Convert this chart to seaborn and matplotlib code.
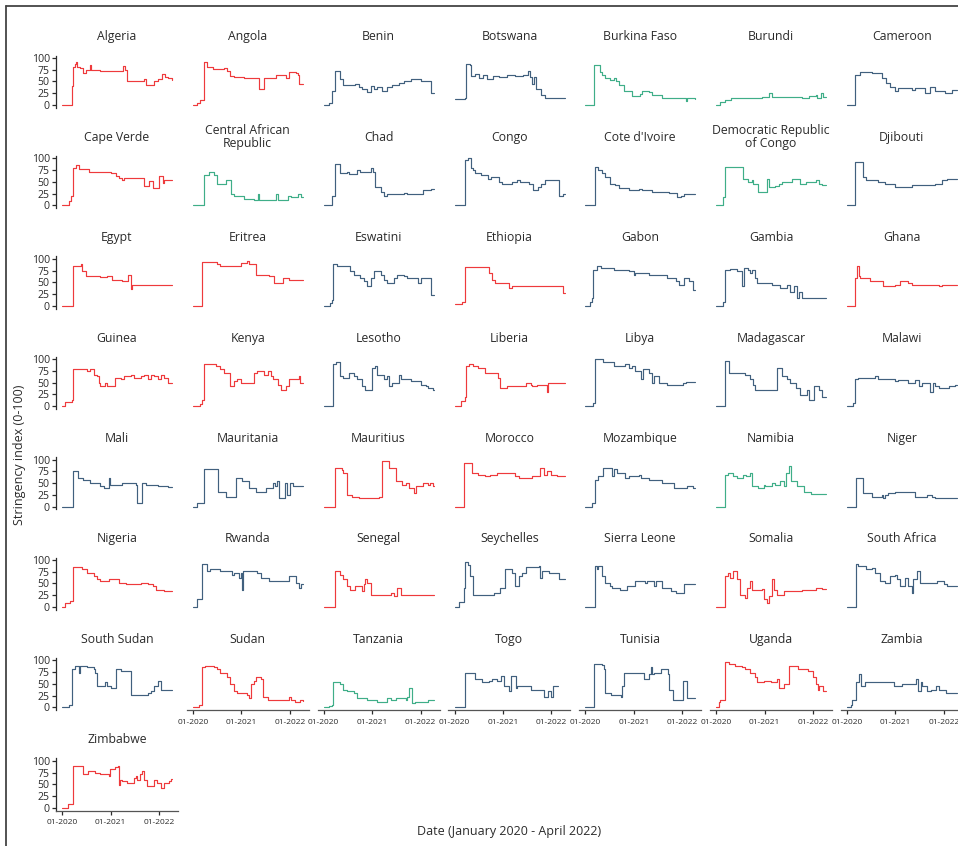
import numpy as np
import pandas as pd
import matplotlib
matplotlib.use("Agg")
import matplotlib.pyplot as plt
import matplotlib.dates as mdates
import seaborn as sns
from matplotlib.lines import Line2D

# ---------------- data: (months since Jan 2020, stringency index) change points -------------
algeria = [(0,0),(2.2,0),(2.5,40),(2.8,80),(3.1,88),(3.5,92),(3.8,80),(4.5,78),(5.2,68),(5.8,75),(6.8,84),(7.2,75),(9.5,72),(14.0,72),(15.0,82),(15.5,75),(16.2,52),(19.5,52),(20.3,56),(20.8,42),(22.2,42),(22.8,50),(23.8,56),(24.7,66),(25.5,60),(26.3,57),(27.3,53)]
angola = [(0,0),(1,5),(1.8,10),(2.8,92),(3.5,80),(5,77),(7.7,78),(8.5,72),(9.3,62),(10.2,60),(12.7,58),(16,57),(16.4,35),(17.7,57),(20.6,64),(23.1,57),(23.9,70),(25.5,68),(26,64),(26.4,44),(27.3,44)]
benin = [(0,0),(1.2,5),(2.0,30),(2.8,72),(4.1,55),(4.9,42),(7.8,45),(8.7,38),(9.5,35),(10.75,28),(11.6,40),(12.4,35),(13.25,38),(14.5,30),(15.75,38),(17,42),(18.7,47),(19.9,50),(21.6,55),(24.1,50),(25.75,50),(26.6,25),(27.3,25)]
botswana = [(0,12),(2.5,15),(2.9,88),(3.8,85),(4.2,62),(5,65),(6,58),(7,63),(8,55),(9.5,62),(11,60),(13,63),(15,62),(17,64),(18.2,72),(18.8,60),(19.2,45),(19.8,60),(20.3,35),(21.5,21),(22.3,14),(27.3,14)]
burkina_faso = [(0,0),(1.8,0),(2.1,85),(3.7,70),(4.25,64),(4.9,57),(6.2,53),(7,57),(7.5,50),(8.25,43),(9.5,29),(11.6,20),(13.5,24),(14.1,30),(15.75,27),(16.6,21),(19.1,14),(24.9,8),(25.3,14),(27.3,13)]
burundi = [(0,0),(0.9,7),(2.2,11),(3.8,14),(9.7,15),(11.3,17),(13.2,25),(13.8,18),(20.5,17),(21.3,14),(23,19),(24.7,22),(25.1,14),(25.9,26),(26.6,18),(27.3,18)]
cameroon = [(0,0),(1.9,64),(3.2,71),(6.1,68),(8.6,57),(9.8,46),(10.7,39),(11.9,30),(12.75,36),(16.1,32),(16.9,37),(19.4,25),(20.7,39),(21.9,29),(24.4,25),(26.1,31),(27.3,31)]
cape_verde = [(0,0),(1.6,10),(2.2,20),(2.7,79),(3.5,85),(4.1,78),(6.6,70),(9.5,72),(10.3,70),(12,68),(13.25,62),(14.1,58),(14.9,53),(15.3,58),(20.3,42),(21.6,52),(22.4,38),(24.1,62),(24.9,48),(25.3,55),(27.3,53)]
central_african_republic = [(0,0),(2.7,64),(3.9,71),(5.2,64),(6,46),(8.1,54),(9.5,25),(10.2,19),(12.7,14),(15.2,11),(16.1,24),(16.3,11),(20.6,24),(21,11),(23.5,21),(24.3,18),(26,24),(26.8,18),(27.3,18)]
chad = [(0,0),(2,20),(2.8,89),(4.1,68),(5.75,71),(6.2,66),(8.25,75),(9.1,71),(11.6,79),(12.2,71),(12.6,40),(14.1,29),(14.9,21),(15.75,25),(19.9,27),(20.75,24),(24.5,32),(26.5,34),(27.3,34)]
congo = [(0,0),(2.3,0),(2.6,96),(3.4,100),(4.0,80),(4.5,75),(5.2,68),(6.5,64),(8.3,57),(9,60),(11,50),(11.75,46),(14.25,50),(15.5,54),(16.3,50),(18.5,46),(19.4,32),(20.6,39),(21.5,46),(22.5,54),(25.9,21),(26.9,24),(27.3,24)]
cote_divoire = [(0,0),(2.4,82),(3.25,75),(4.1,68),(4.9,61),(6.2,45),(7.4,43),(8.25,36),(10.75,32),(13.25,34),(14.1,32),(16.6,29),(20.75,27),(22.8,18),(23.7,21),(24.5,25),(27.3,25)]
dr_congo = [(0,0),(1.75,18),(2.3,82),(6.3,82),(6.6,57),(7.6,57),(8,50),(8.8,54),(9.25,46),(10.5,29),(12.2,29),(12.5,56),(13,39),(14.7,42),(15.5,46),(16.3,50),(18.8,57),(20.9,46),(22.2,50),(24.7,54),(25.5,46),(26.3,43),(27.3,43)]
djibouti = [(0,0),(2.1,93),(4.1,61),(4.8,54),(7.75,50),(9.4,46),(11.9,39),(16.1,43),(21.9,46),(23.6,54),(24.8,57),(27.3,57)]
egypt = [(0,0),(2.7,84),(4.8,88),(5.0,73),(6,64),(7.8,63),(9.5,61),(11.2,63),(12.4,55),(14.9,52),(16.3,66),(17,35),(17.3,44),(27.3,44)]
eritrea = [(0,0),(2.25,93),(6.0,88),(6.8,84),(12,91),(13.5,95),(14,88),(15.6,66),(18.8,63),(20.2,48),(22.2,59),(23.9,55),(27.3,55)]
eswatini = [(0,0),(1.6,5),(2,12),(2.4,88),(3.25,84),(6.6,73),(7.4,66),(9.1,60),(9.9,52),(10.75,42),(11.6,59),(12.4,73),(14.1,66),(14.9,55),(15.75,48),(17.4,59),(18.25,66),(19.9,63),(20.75,59),(23.25,48),(24.1,59),(26.2,59),(26.6,23),(27.3,23)]
ethiopia = [(0,3),(1.8,8),(2.5,82),(8.5,70),(9.25,55),(10.1,48),(13.4,37),(14.3,41),(26.8,28),(27.3,28)]
gabon = [(0,0),(1.2,9),(1.6,16),(2,77),(2.8,84),(3.9,81),(7,77),(10.75,73),(12,66),(12.4,70),(15.75,66),(20.3,59),(22.4,52),(23.25,45),(24.5,59),(25.75,52),(26.6,34),(27.3,34)]
gambia = [(0,0),(1.75,8),(2.2,77),(3.5,79),(5.1,73),(6.3,41),(6.8,81),(8,77),(8.4,70),(8.8,77),(9.7,59),(10.1,48),(13.8,45),(15.9,37),(17.6,45),(18.4,30),(19.25,41),(20.1,16),(20.5,30),(21.3,16),(27.3,16)]
ghana = [(0,0),(1.9,5),(2.1,60),(2.4,84),(3.0,63),(3.2,59),(5.7,52),(9,41),(11.9,45),(13.2,52),(15.25,48),(16.1,45),(21.9,45),(22.75,41),(23.6,45),(27.3,45)]
guinea = [(0,0),(0.75,9),(2.4,13),(2.8,80),(6.2,75),(7,78),(7.8,67),(8.7,64),(9.25,49),(9.5,42),(10.75,49),(11.2,42),(13.2,60),(14.5,57),(15.3,64),(17,67),(17.8,60),(19.5,64),(20.3,67),(21.2,57),(22,67),(22.8,64),(23.7,57),(24.5,67),(25.3,60),(26.2,49),(27.3,49)]
kenya = [(0,0),(1.8,5),(2.25,13),(2.8,89),(5.6,86),(6.8,78),(7.7,71),(9.2,42),(10.2,53),(11,57),(11.8,49),(15.2,71),(16,75),(17.7,67),(18.5,75),(19.3,64),(19.75,57),(21,46),(21.8,35),(23.1,42),(23.9,57),(26.25,64),(26.6,49),(27.3,49)]
lesotho = [(0,0),(2.4,89),(3.0,93),(4.1,64),(4.9,60),(6.2,71),(7.4,64),(8.25,57),(9.5,42),(10.3,35),(12,82),(12.8,86),(13.25,67),(14.9,57),(15.75,64),(16.2,42),(17,49),(18.7,67),(19.1,57),(21.6,53),(24.1,46),(25.3,42),(25.75,38),(27,35),(27.3,35)]
liberia = [(0,0),(1.5,10),(2.5,20),(2.8,85),(3.5,90),(4.5,85),(5.9,82),(7.6,71),(10.8,60),(11.3,38),(13,42),(17.6,49),(18.9,45),(19.25,42),(20.5,45),(22.9,30),(23.2,49),(27.3,49)]
libya = [(0,0),(2,6),(2.4,100),(4.5,93),(7,86),(9.9,89),(10.75,82),(11.6,86),(12.4,75),(13.7,57),(14.3,78),(15.75,71),(16.6,49),(17,64),(18.25,49),(20.3,46),(24.1,49),(24.9,51),(27.3,51)]
madagascar = [(0,0),(2.3,96),(3.3,71),(7.2,67),(8.4,57),(9.25,46),(9.7,35),(15.1,82),(16.3,64),(17.6,57),(18.4,49),(19.7,38),(20.9,24),(22.6,35),(23,13),(24.25,42),(25.5,35),(26.3,20),(27.3,20)]
malawi = [(0,0),(1.5,6),(1.9,57),(2.75,60),(6.9,65),(7.75,58),(11.9,53),(12.75,56),(15.25,49),(16.9,56),(17.75,42),(18.6,49),(20.7,31),(21.3,49),(21.9,42),(22.75,38),(25.25,42),(26.9,46),(27.3,46)]
mali = [(0,0),(2.7,75),(3.9,61),(5.3,57),(7,50),(9.5,43),(10.3,39),(11.5,61),(11.8,46),(14.9,50),(18.25,46),(18.5,7),(19.7,50),(20.75,46),(23.7,43),(26.2,41),(27.3,41)]
mauritania = [(0,0),(1,7),(2.7,79),(6.2,32),(8.1,21),(10.8,61),(12.25,54),(13.9,39),(15.6,32),(18.1,39),(19.8,50),(20.4,43),(20.9,54),(21.4,18),(22.7,50),(23.3,25),(24,50),(24.8,43),(27.3,43)]
mauritius = [(0,0),(2.7,82),(4.5,78),(4.9,71),(5.75,25),(7,21),(8.7,18),(13.7,21),(14.4,96),(16.2,82),(17.8,54),(19.5,46),(20.3,50),(21.2,39),(22.4,29),(22.8,43),(24.5,50),(25.75,46),(26.4,50),(27,43),(27.3,43)]
morocco = [(0,0),(2.3,93),(4.3,72),(5.9,68),(7.6,64),(8.8,68),(10.5,71),(15.1,64),(15.9,61),(19.25,64),(21.3,82),(22.2,68),(23,75),(23.8,68),(25.5,64),(27.3,64)]
mozambique = [(0,0),(1.6,7),(2.4,57),(3.25,64),(4.5,82),(6.5,64),(7,80),(7.8,71),(9.9,61),(10.75,64),(13.25,68),(13.7,61),(15.75,57),(19.1,50),(22,39),(25.3,43),(26.6,39),(27.3,39)]
namibia = [(0,0),(2.2,68),(3,71),(4.25,64),(5.1,61),(6.75,68),(7.5,64),(8.4,71),(8.8,43),(10.5,39),(11.75,46),(12.2,43),(13.8,50),(14.7,46),(15.9,54),(16.75,43),(17.2,71),(18,86),(18.6,54),(20.1,43),(21.75,32),(23.4,27),(27.3,27)]
niger = [(0,0),(2.3,61),(3.9,29),(6.1,21),(8.6,25),(9.0,18),(9.4,25),(10.25,29),(11.9,32),(16.9,21),(19.8,25),(21.1,21),(21.9,18),(27.3,18)]
nigeria = [(0,0),(0.75,9),(2,12),(2.7,84),(4.9,80),(6.2,73),(7.8,66),(8.7,59),(9.5,55),(11.6,60),(14.1,51),(15.75,48),(19.5,51),(21.2,48),(22.4,44),(23.25,37),(25.3,35),(27.3,35)]
rwanda = [(0,0),(1,16),(2.25,91),(3.5,76),(4.3,80),(6.8,76),(9.75,69),(10.2,73),(11.4,62),(11.8,73),(12.1,37),(12.4,76),(16,73),(16.8,62),(18.9,55),(23.5,55),(23.9,66),(25.6,51),(26.4,41),(26.8,48),(27.3,48)]
senegal = [(0,0),(2.7,76),(4.1,69),(4.9,59),(5.75,44),(6.6,37),(7.8,44),(9.5,34),(9.9,48),(10.3,59),(10.8,51),(11.6,26),(16.6,30),(17.4,23),(18.25,41),(19.1,26),(27.3,26)]
seychelles = [(0,0),(1,10),(2.3,40),(2.6,95),(3.4,90),(3.9,65),(4.6,25),(9.25,26),(9.7,30),(11.3,41),(12.6,80),(14.25,73),(15.1,44),(15.9,66),(16.75,73),(17.6,84),(20.9,87),(21.3,62),(21.75,76),(23.4,73),(25.9,59),(27.3,59)]
sierra_leone = [(0,0),(2.4,87),(2.8,80),(3.25,87),(4.1,66),(4.9,51),(6.2,44),(6.6,41),(8.7,37),(10.3,44),(12.4,55),(14.9,51),(15.3,55),(17,44),(17.4,55),(19.1,41),(21.2,34),(22.4,30),(24.5,48),(27.3,48)]
somalia = [(0,0),(2.2,66),(3,73),(3.4,62),(4.25,76),(5.1,59),(5.9,26),(7.2,19),(7.6,41),(8.4,55),(8.8,37),(11.3,39),(11.75,16),(12.6,9),(13,23),(13.8,59),(14.25,37),(15.1,26),(16.75,34),(21.3,37),(24.7,41),(26.3,39),(27.3,39)]
south_africa = [(0,0),(2.3,91),(2.75,87),(4.8,80),(6.1,83),(6.9,73),(8.2,55),(9.4,51),(10.7,66),(11.9,69),(12.3,59),(13.2,44),(14.4,62),(15.25,44),(16.2,30),(16.5,59),(17.3,76),(18.2,51),(22.3,55),(24,48),(24.8,44),(27.3,44)]
south_sudan = [(0,0),(1.6,5),(2.4,82),(3.25,89),(4.25,74),(4.5,89),(6.2,85),(7.8,82),(8.25,74),(8.7,45),(10.75,53),(11.2,45),(12,42),(13.25,82),(14.5,78),(17,27),(20.3,27),(21.2,31),(22,34),(22.8,45),(23.7,56),(24.5,38),(27.3,38)]
sudan = [(0,0),(1.4,5),(2.25,85),(3.1,88),(5.2,85),(6,82),(6.8,74),(8.5,64),(9.3,49),(10.2,34),(11,31),(13.5,27),(13.9,20),(14.3,49),(15.2,56),(15.6,64),(16.8,60),(17.3,23),(18.5,16),(23.5,16),(23.9,23),(24.3,16),(25.2,12),(26.5,16),(27.3,14)]
tanzania = [(0,0),(1.4,3),(2,5),(2.4,53),(4.1,49),(4.9,38),(5.75,34),(7.4,31),(8.25,20),(10.75,16),(13.25,12),(15.75,20),(16.6,16),(17.8,20),(20.3,16),(20.75,23),(21.2,42),(22,10),(22.5,12),(25.75,16),(27.3,16)]
togo = [(0,0),(2.5,74),(5,60),(6.8,53),(8.5,56),(9.3,61),(10.6,56),(11.4,67),(12.25,45),(13.5,34),(13.9,67),(15.2,42),(15.6,45),(18.9,38),(22.25,23),(23.1,34),(23.9,22),(24.3,45),(25.7,45)]
tunisia = [(0,0),(2.1,93),(4.2,90),(4.6,82),(5,31),(6.25,27),(8.75,23),(9.2,45),(9.6,74),(14.6,60),(15.8,71),(16.2,85),(16.5,71),(17.1,74),(18.75,82),(20.4,71),(20.8,38),(21.7,16),(24.2,56),(25.2,20),(27.3,20)]
uganda = [(0,0),(0.6,12),(1,16),(2.25,96),(3.1,93),(4.75,89),(6.4,85),(7.25,82),(8.5,74),(9.75,64),(10.2,53),(11.8,56),(13.5,53),(15.2,60),(15.6,42),(16.8,49),(18.1,89),(20.2,82),(22.7,78),(23.9,64),(24.75,49),(25.2,38),(25.6,45),(26.5,34),(27.3,34)]
zambia = [(0,0),(1,5),(1.2,16),(2.25,53),(3,71),(3.5,45),(4.5,53),(5.75,54),(11.6,45),(13.7,49),(17,60),(17.5,34),(18.25,53),(18.7,45),(19.9,34),(20.75,38),(22,45),(22.8,38),(24.5,31),(27.3,31)]
zimbabwe = [(0,0),(1.5,9),(2.75,88),(4.8,88),(5.25,71),(6.5,78),(8.2,75),(9.4,71),(11.5,67),(11.9,82),(13.2,86),(13.8,89),(14,49),(14.4,60),(14.8,57),(16.1,53),(17.75,64),(18.2,67),(18.6,60),(19.4,71),(19.8,78),(20.25,60),(21.1,46),(22.75,60),(23.6,53),(24.4,42),(25.25,53),(26.5,57),(26.9,62),(27.3,62)]

countries = ["Algeria", "Angola", "Benin", "Botswana", "Burkina Faso", "Burundi", "Cameroon",
             "Cape Verde", "Central African\nRepublic", "Chad", "Congo", "Cote d'Ivoire",
             "Democratic Republic\nof Congo", "Djibouti",
             "Egypt", "Eritrea", "Eswatini", "Ethiopia", "Gabon", "Gambia", "Ghana",
             "Guinea", "Kenya", "Lesotho", "Liberia", "Libya", "Madagascar", "Malawi",
             "Mali", "Mauritania", "Mauritius", "Morocco", "Mozambique", "Namibia", "Niger",
             "Nigeria", "Rwanda", "Senegal", "Seychelles", "Sierra Leone", "Somalia", "South Africa",
             "South Sudan", "Sudan", "Tanzania", "Togo", "Tunisia", "Uganda", "Zambia",
             "Zimbabwe"]
series = [algeria, angola, benin, botswana, burkina_faso, burundi, cameroon,
          cape_verde, central_african_republic, chad, congo, cote_divoire, dr_congo, djibouti,
          egypt, eritrea, eswatini, ethiopia, gabon, gambia, ghana,
          guinea, kenya, lesotho, liberia, libya, madagascar, malawi,
          mali, mauritania, mauritius, morocco, mozambique, namibia, niger,
          nigeria, rwanda, senegal, seychelles, sierra_leone, somalia, south_africa,
          south_sudan, sudan, tanzania, togo, tunisia, uganda, zambia,
          zimbabwe]
groups = ["A", "A", "B", "B", "C", "C", "B",
          "A", "C", "B", "B", "B", "C", "B",
          "A", "A", "B", "A", "B", "B", "A",
          "A", "A", "B", "A", "B", "B", "B",
          "B", "B", "A", "A", "B", "C", "B",
          "A", "B", "A", "B", "B", "A", "B",
          "B", "A", "C", "B", "B", "A", "B",
          "A"]
group_colors = {"A": "#EE3A3C", "B": "#41607E", "C": "#3FAE88"}
y_ticks = [0, 25, 50, 75, 100]
x_tick_dates = ["2020-01-01", "2021-01-01", "2022-01-01"]

# ---------------- build long table ----------------
START = pd.Timestamp("2020-01-01")
frames = []
for name, grp, pts in zip(countries, groups, series):
    m = np.array([p[0] for p in pts], dtype=float)
    v = np.array([p[1] for p in pts], dtype=float)
    frames.append(pd.DataFrame({"country": name, "group": grp,
                                "date": START + pd.to_timedelta(m * 30.4375, unit="D"),
                                "value": v}))
df = pd.concat(frames, ignore_index=True)

# ---------------- style ----------------
sns.set_style("white")
plt.rcParams["font.family"] = ["Open Sans", "DejaVu Sans"]
plt.rcParams["axes.linewidth"] = 0.9
TXT = "#2b2b2b"

W, H = 958, 846
fig = plt.figure(figsize=(W / 100, H / 100), dpi=100)

n = len(countries)
ncol = 7
xlim = (pd.Timestamp("2019-11-16"), pd.Timestamp("2022-05-24"))
ylim = (-6, 105)
ax_w, ax_h = 122, 52.2
for i, name in enumerate(countries):
    r, c = divmod(i, ncol)
    left = 56 + 130.8 * c
    bottom_px = 107.8 + 100.4 * r
    ax = fig.add_axes([left / W, 1 - bottom_px / H, ax_w / W, ax_h / H])
    sub = df[df["country"] == name]
    sns.lineplot(data=sub, x="date", y="value", ax=ax, color=group_colors[groups[i]],
                 estimator=None, drawstyle="steps-post", linewidth=0.85)
    ax.set_xlim(*xlim)
    ax.set_ylim(*ylim)
    ax.set_xlabel("")
    ax.set_ylabel("")
    for s in ax.spines.values():
        s.set_visible(False)
    ax.annotate(name, xy=(0.5, 1), xycoords="axes fraction", xytext=(0, 13.5),
                textcoords="offset points", ha="center", va="center",
                fontsize=8.8, color=TXT, linespacing=1.05)
    is_left = (c == 0)
    is_bottom = (i + ncol >= n)
    ax.set_yticks(y_ticks)
    ax.set_xticks(pd.to_datetime(x_tick_dates))
    ax.xaxis.set_major_formatter(mdates.DateFormatter("%m-%Y"))
    ax.tick_params(axis="y", left=is_left, labelleft=is_left, length=3, width=0.9,
                   pad=1.5, labelsize=7.6, colors=TXT)
    ax.tick_params(axis="x", bottom=is_bottom, labelbottom=is_bottom, length=3, width=0.9,
                   pad=3, labelsize=6, colors=TXT)
    if is_left:
        ax.spines["left"].set_visible(True)
        ax.spines["left"].set_color(TXT)
    if is_bottom:
        ax.spines["bottom"].set_visible(True)
        ax.spines["bottom"].set_color("#555555")
    ax.grid(False)

fig.text(20 / W, 1 - 455 / H, "Stringency index (0-100)", rotation=90,
         ha="center", va="center", fontsize=9, color=TXT)
fig.text(509 / W, 1 - 831 / H, "Date (January 2020 - April 2022)",
         ha="center", va="center", fontsize=9, color=TXT)

# frame of the original figure (top and left edges)
fig.add_artist(Line2D([6 / W, 1.0], [1 - 6.5 / H, 1 - 6.5 / H], transform=fig.transFigure,
                      color="#444444", linewidth=1.3))
fig.add_artist(Line2D([6 / W, 6 / W], [0.0, 1 - 6.5 / H], transform=fig.transFigure,
                      color="#444444", linewidth=1.3))

fig.savefig("out.png", dpi=100)
